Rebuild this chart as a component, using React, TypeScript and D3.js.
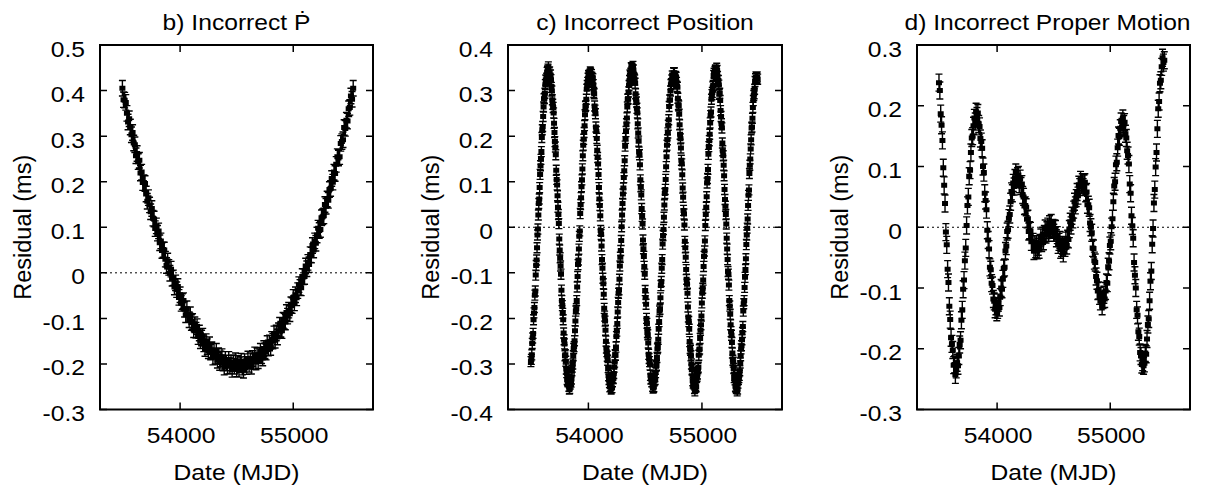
import React from 'react';
import * as d3 from 'd3';

// ---------- data (residuals in microseconds) ----------
const xDomain: [number, number] = [53292, 55705];
const xTicks = [54000, 55000];

const titles = ['b) Incorrect Ṗ', 'c) Incorrect Position', 'd) Incorrect Proper Motion'];

// b) Incorrect Pdot
const pdotStart = 53490;
const pdotStep = 10;
const pdotErr = 0.017;
const pdotResidualUs = [
  405,380,379,374,350,331,338,320,303,308,
  285,281,257,262,244,247,219,221,198,198,
  196,173,157,165,149,134,141,120,118,97,
  103,87,92,66,70,49,51,50,30,16,
  26,12,-1,8,-12,-11,-31,-22,-37,-30,
  -54,-48,-67,-63,-61,-80,-92,-79,-92,-103,
  -92,-109,-107,-125,-114,-126,-118,-140,-132,-149,
  -143,-139,-156,-166,-151,-162,-171,-158,-174,-169,
  -185,-172,-183,-172,-192,-182,-197,-189,-184,-198,
  -207,-190,-198,-205,-190,-204,-198,-212,-197,-205,
  -193,-211,
  -199,
  -212,-202,-194,-207,-214,-195,-201,-206,-189,-201,
  -193,-205,-188,-195,-180,-196,-182,-193,-181,-172,
  -182,-187,-166,-171,-174,-155,-165,-154,-164,-146,
  -150,-134,-148,-132,-141,-127,-115,-124,-127,-104,
  -106,-108,-87,-95,-82,-90,-70,-72,-54,-66,
  -48,-55,-39,-26,-32,-33,-8,-9,-8,15,
  9,23,18,40,39,60,50,70,65,83,
  98,93,95,121,123,125,150,146,162,159,
  183,185,207,199,221,218,238,255,252,255,
  284,288,292,319,317,335,333,360,363,388,
  381,405,
];
const pdotYTicks = [-0.3, -0.2, -0.1, 0, 0.1, 0.2, 0.3, 0.4, 0.5];

// c) Incorrect Position
const posStart = 53494;
const posStep = 3.84;
const posErr = 0.011;
const posResidualUs = [
  -295,-290,-280,-255,-243,-233,-203,-188,-176,-149,
  -140,-105,-84,-72,-45,-17,-4,27,52,62,
  87,116,135,149,166,197,214,221,243,264,
  282,283,294,313,323,322,327,340,343,347,
  352,
  339,339,341,325,334,324,307,299,280,270,263,251,228,208,188,176,159,125,105,93,69,44,28,8,
  -26,-50,-67,-85,-103,-138,-161,-172,-189,-203,-232,-247,-256,-282,-280,-294,-311,-319,-334,-337,
  -339,-335,-349,-355,-354,-344,-337,-340,-333,-315,-307,-300,-282,-266,-262,-249,-227,-206,-184,-179,
  -161,-131,-108,-82,-72,-48,-20,-8,30,50,65,89,104,128,157,180,193,208,223,247,
  265,267,281,303,311,318,327,333,330,331,336,341,
  338,330,335,329,321,326,313,296,293,266,257,249,220,210,195,169,153,139,116,87,
  62,48,25,-7,-16,-41,-71,-90,-112,-124,-147,-178,-195,-206,-226,-250,-265,-273,-283,-292,
  -308,-326,-334,-341,-350,-342,-347,-355,-352,-352,-339,-331,-332,-321,-307,-296,-280,-281,-263,-240,
  -228,-211,-186,-165,-145,-137,-114,-85,-66,-51,-29,1,27,52,73,86,109,124,146,178,
  195,210,227,240,264,281,282,297,311,322,334,331,338,350,347,349,
  344,353,345,328,326,323,316,293,281,275,261,251,227,207,189,165,159,137,104,89,
  71,41,24,7,-28,-47,-64,-86,-103,-139,-155,-169,-200,-211,-231,-236,-254,-279,-288,-295,
  -302,-325,-333,-332,-339,-339,-349,-353,-352,-350,-337,-328,-334,-319,-305,-303,-286,-267,-264,-246,
  -224,-207,-184,-180,-155,-128,-119,-90,-71,-37,-18,-5,22,49,74,83,105,133,155,180,
  192,207,224,236,265,279,280,299,313,315,323,332,327,332,339,338,
  339,327,331,331,329,318,309,307,283,269,266,248,225,204,194,174,147,139,115,86,
  66,37,29,5,-31,-45,-66,-93,-114,-125,-145,-175,-197,-207,-224,-251,-266,-270,-282,-300,
  -313,-311,-337,-342,-339,-344,-354,-359,-352,-347,-350,-330,-327,-322,-310,-307,-281,-269,-267,-244,
  -226,-214,-195,-166,-145,-134,-116,-86,-64,-52,-30,4,28,44,67,97,107,127,160,177,
  190,204,229,245,253,281,291,296,308,311,333,338,330,342,345,341,
  342,349,344,331,322,322,312,292,294,278,256,243,227,218,185,168,157,136,113,83,
  61,46,28,7,-24,-48,-71,-97,-103,-127,-161,-173,-191,-214,-229,-237,-253,-276,-292,-296,
  -310,-330,-326,-335,-349,-351,-354,-349,-359,-355,-342,-334,-330,-325,-315,-298,-282,-267,-260,-247,
  -231,-218,-184,-168,-161,-132,-110,-93,-69,-38,-17,-2,18,48,70,82,118,136,150,172,
  192,218,220,239,263,278,289,293,303,320,326,330,329,327,330,325,
];
const posYTicks = [-0.4, -0.3, -0.2, -0.1, 0, 0.1, 0.2, 0.3, 0.4];

// d) Incorrect Proper Motion
const pmStart = 53486.3;
const pmStep = 7.63;
const pmErr = 0.014;
const pmResidualUs = [
  238,225,187,168,143,98,69,39,-8,-29,
  -69,-91,-130,-152,-182,-192,-202,-227,-226,-243,
  -234,-223,-228,-212,-193,-186,-153,-136,-102,-87,
  -55,-34,3,36,50,84,94,123,147,150,
  167,180,174,190,183,188,170,166,146,141,
  130,100,90,56,44,29,-5,-21,-36,-66,
  -70,-92,-96,-118,-122,-135,-130,-140,-136,-124,
  -132,-115,-100,-102,-85,-68,-66,-39,-31,-7,
  -4,15,21,42,59,56,73,67,81,90,
  79,84,86,71,80,68,71,53,50,35,
  36,33,13,14,-7,-5,-6,-24,-24,-24,
  -39,-28,-36,-28,-38,-32,-37,-26,-17,-26,
  -14,-23,-11,-2,-12,-5,1,-9,5,-2,
  7,-4,-1,-9,-2,-3,-18,-13,-29,-24,
  -21,-37,-34,-30,-43,-29,-34,-22,-30,-19,
  -20,-3,9,3,19,13,29,42,36,48,
  58,52,70,66,78,69,74,66,72,74,
  56,58,37,37,32,7,0,-9,-34,-35,
  -55,-58,-81,-88,-105,-104,-113,-122,-122,-130,
  -120,-111,-118,-105,-91,-92,-65,-56,-30,-23,
  1,14,42,68,75,103,107,131,151,149,
  163,174,165,179,170,173,154,147,126,118,
  104,71,56,19,2,-18,-58,-79,-100,-136,
  -145,-172,-180,-206,-212,-226,-222,-228,-224,-207,
  -209,-184,-160,-151,-121,-89,-72,-28,-2,40,
  62,99,123,162,195,207,237,242,264,279,
  271,275,
];
const pmYTicks = [-0.3, -0.2, -0.1, 0, 0.1, 0.2, 0.3];

// ---------- layout / style ----------
const W = 1208;
const H = 489;
const TOP = 45;
const BOTTOM = 409.5;
const PANEL_X = [
  { l: 100, r: 373, titleDx: 0 },
  { l: 508, r: 782, titleDx: 0 },
  { l: 917, r: 1190, titleDx: -6 },
];
const FONT = "'Liberation Sans', Arial, Helvetica, sans-serif";
const FS = 22;
const SX = 1.12;
const CAP = 3.5;
const TICK = 7;

interface PanelCfg {
  title: string;
  start: number;
  step: number;
  err: number;
  values: number[];
  yTicks: number[];
}

const panels: PanelCfg[] = [
  { title: titles[0], start: pdotStart, step: pdotStep, err: pdotErr, values: pdotResidualUs, yTicks: pdotYTicks },
  { title: titles[1], start: posStart, step: posStep, err: posErr, values: posResidualUs, yTicks: posYTicks },
  { title: titles[2], start: pmStart, step: pmStep, err: pmErr, values: pmResidualUs, yTicks: pmYTicks },
];

function SText(props: { x: number; y: number; anchor: string; children: React.ReactNode }) {
  return (
    <text
      transform={`translate(${props.x},${props.y}) scale(${SX},1)`}
      textAnchor={props.anchor}
      fontSize={FS}
      fontFamily={FONT}
      fill="#000"
    >
      {props.children}
    </text>
  );
}

function fmt(v: number) {
  return Math.abs(v) < 1e-9 ? '0' : v.toFixed(1);
}

function Panel({ cfg, l, r, titleDx }: { cfg: PanelCfg; l: number; r: number; titleDx: number }) {
  const x = d3.scaleLinear().domain(xDomain).range([l, r]);
  const yd = [cfg.yTicks[0], cfg.yTicks[cfg.yTicks.length - 1]];
  const y = d3.scaleLinear().domain(yd).range([BOTTOM, TOP]);

  let bars = '';
  let marks = '';
  cfg.values.forEach((us, i) => {
    const t = cfg.start + i * cfg.step;
    const v = us / 1000;
    const px = x(t);
    const lo = y(v - cfg.err);
    const hi = y(v + cfg.err);
    const py = y(v);
    bars += `M${px},${lo}V${hi}M${px - CAP},${lo}H${px + CAP}M${px - CAP},${hi}H${px + CAP}`;
    marks += `M${px - 3},${py - 2.5}h6v5h-6z`;
  });

  let ticks = '';
  cfg.yTicks.forEach((v) => {
    const yy = y(v);
    ticks += `M${l},${yy}h${TICK}M${r},${yy}h${-TICK}`;
  });
  xTicks.forEach((t) => {
    const xx = x(t);
    ticks += `M${xx},${BOTTOM}v${-TICK}M${xx},${TOP}v${TICK}`;
  });

  const cx = (l + r) / 2;
  const cy = (TOP + BOTTOM) / 2;

  return (
    <g>
      <line x1={l} x2={r} y1={y(0)} y2={y(0)} stroke="#000" strokeWidth={1} strokeDasharray="2 3" />
      <path d={bars} stroke="#000" strokeWidth={1.4} fill="none" />
      <path d={marks} fill="#000" stroke="none" />
      <path d={ticks} stroke="#000" strokeWidth={1.5} fill="none" />
      <rect x={l} y={TOP} width={r - l} height={BOTTOM - TOP} fill="none" stroke="#000" strokeWidth={2} />
      {cfg.yTicks.map((v) => (
        <SText key={v} x={l - 15} y={y(v) + 11.5} anchor="end">
          {fmt(v)}
        </SText>
      ))}
      {xTicks.map((t) => (
        <SText key={t} x={x(t) + 1} y={443} anchor="middle">
          {String(t)}
        </SText>
      ))}
      <SText x={cx} y={480} anchor="middle">
        Date (MJD)
      </SText>
      <SText x={cx + titleDx} y={29.5} anchor="middle">
        {cfg.title}
      </SText>
      <text
        transform={`translate(${l - 69},${cy}) rotate(-90)`}
        textAnchor="middle"
        fontSize={23.5}
        fontFamily={FONT}
        fill="#000"
      >
        Residual (ms)
      </text>
    </g>
  );
}

export default function App() {
  return (
    <svg
      width={W}
      height={H}
      viewBox={`0 0 ${W} ${H}`}
      style={{ position: 'absolute', left: 0, top: 0, background: '#fff' }}
    >
      <rect x={0} y={0} width={W} height={H} fill="#fff" />
      {panels.map((p, i) => (
        <Panel key={i} cfg={p} l={PANEL_X[i].l} r={PANEL_X[i].r} titleDx={PANEL_X[i].titleDx} />
      ))}
    </svg>
  );
}
